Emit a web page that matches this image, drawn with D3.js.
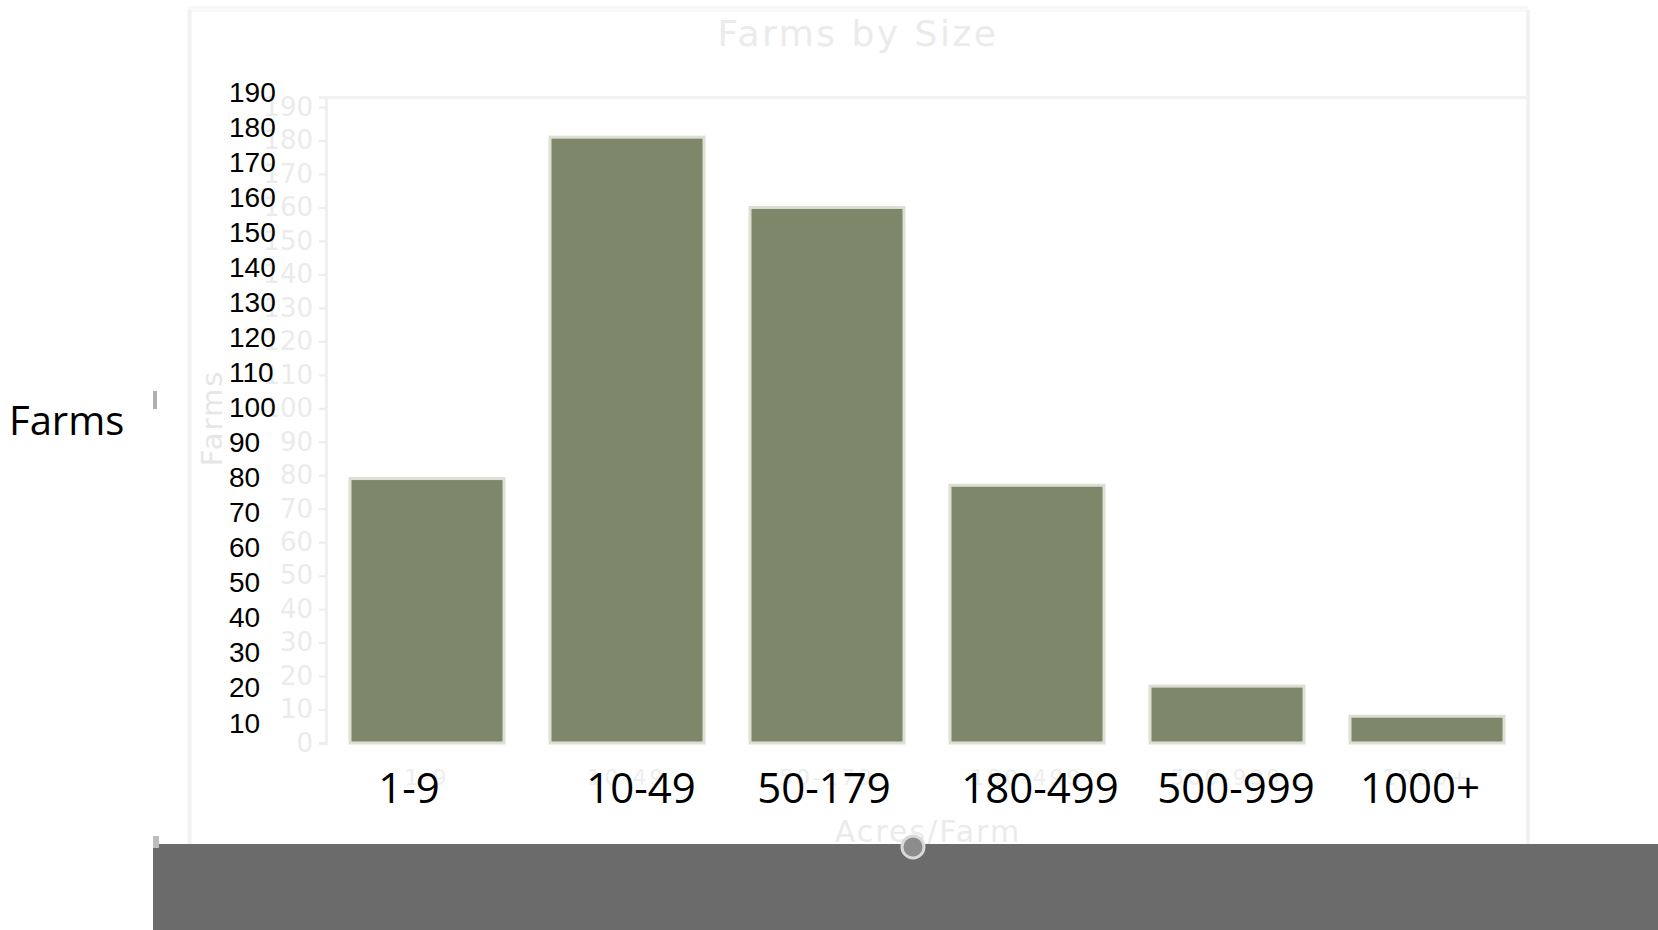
<!DOCTYPE html>
<html>
<head>
<meta charset="utf-8">
<script src="https://cdn.jsdelivr.net/npm/d3@7"></script>
<style>
  html, body { margin: 0; padding: 0; background: #fff; }
  svg { display: block; }
</style>
</head>
<body>
<svg id="chart" width="1658" height="930"></svg>
<script>
// ---- data ----
const categories = ["1-9", "10-49", "50-179", "180-499", "500-999", "1000+"];
const farms = [79, 181, 160, 77, 17, 8];
const ghostTicks = [0, 10, 20, 30, 40, 50, 60, 70, 80, 90, 100, 110, 120, 130, 140, 150, 160, 170, 180, 190];
const overlayTicks = [10, 20, 30, 40, 50, 60, 70, 80, 90, 100, 110, 120, 130, 140, 150, 160, 170, 180, 190];
const chartTitle = "Farms by Size";
const xTitle = "Acres/Farm";
const yTitle = "Farms";

// ---- layout ----
const W = 1658, H = 930;
const plot = { left: 327, right: 1527, top: 97, bottom: 743 };
const labelShift = [-18, 14, -3, 13, 9, -7];

const svg = d3.select("#chart");

const x = d3.scaleBand().domain(categories)
  .range([plot.left, plot.right]).paddingInner(0.23).paddingOuter(0.115);
const y = d3.scaleLinear().domain([0, 193]).range([plot.bottom, plot.top]);
// overlay (pasted) label scale
const yo = d3.scaleLinear().domain([10, 190]).range([723, 92]);

const ghost = "#ebebeb";

// panel frame
svg.append("rect").attr("x", 188).attr("y", 6).attr("width", 1340).attr("height", 6)
  .attr("fill", "#f8f8f8");
svg.append("line").attr("x1", 189.5).attr("x2", 189.5).attr("y1", 10).attr("y2", 850)
  .attr("stroke", "#f2f2f2").attr("stroke-width", 4);
svg.append("line").attr("x1", 1528).attr("x2", 1528).attr("y1", 10).attr("y2", 850)
  .attr("stroke", "#f2f2f2").attr("stroke-width", 4);

// plot area frame
svg.append("line").attr("x1", plot.left).attr("x2", 1530).attr("y1", 97.5).attr("y2", 97.5)
  .attr("stroke", "#f2f2f2").attr("stroke-width", 3);

// title
svg.append("text").attr("x", 858).attr("y", 46).attr("text-anchor", "middle")
  .attr("font-family", "DejaVu Sans").attr("font-size", 36).attr("letter-spacing", 2.5)
  .attr("fill", ghost).text(chartTitle);

// ghost y axis
const yAxis = d3.axisLeft(y).tickValues(ghostTicks).tickSize(7).tickPadding(6);
const gy = svg.append("g").attr("transform", `translate(${plot.left - 1},0)`).call(yAxis);
gy.select(".domain").attr("stroke", "#f0f0f0").attr("stroke-width", 3);
gy.selectAll(".tick line").attr("stroke", "#ececec").attr("stroke-width", 2);
gy.selectAll(".tick text").attr("font-family", "DejaVu Sans").attr("font-size", 26)
  .attr("fill", ghost);

// ghost y title
svg.append("text").attr("transform", "translate(214,418) rotate(-90)")
  .attr("text-anchor", "middle").attr("dominant-baseline", "middle")
  .attr("font-family", "DejaVu Sans").attr("font-size", 29).attr("letter-spacing", 2)
  .attr("fill", "#e6e6e6").text(yTitle);

// bars
svg.append("g").selectAll("rect").data(farms).join("rect")
  .attr("x", (d, i) => x(categories[i]))
  .attr("y", d => y(d))
  .attr("width", x.bandwidth())
  .attr("height", d => y(0) - y(d))
  .attr("fill", "#7d876a")
  .attr("stroke", "#dcdfd4").attr("stroke-width", 3);

// ghost x axis labels
const xAxis = d3.axisBottom(x).tickSize(0).tickPadding(26);
const gx = svg.append("g").attr("transform", `translate(0,${plot.bottom})`).call(xAxis);
gx.select(".domain").remove();
gx.selectAll(".tick text").attr("font-family", "DejaVu Sans").attr("font-size", 22)
  .attr("letter-spacing", 3).attr("fill", "#eeeeee");

// ghost x title
svg.append("text").attr("x", 928).attr("y", 842).attr("text-anchor", "middle")
  .attr("font-family", "DejaVu Sans").attr("font-size", 30).attr("letter-spacing", 2)
  .attr("fill", ghost).text(xTitle);

// overlay y labels (black)
svg.append("g").selectAll("text").data(overlayTicks).join("text")
  .attr("x", 229).attr("y", d => yo(d))
  .attr("dominant-baseline", "central")
  .attr("font-family", "Liberation Sans, Arial").attr("font-size", 28)
  .attr("fill", "#000").text(d => d);

// overlay x labels (black)
svg.append("g").selectAll("text").data(categories).join("text")
  .attr("x", (d, i) => x(d) + x.bandwidth() / 2 + labelShift[i])
  .attr("y", 803).attr("text-anchor", "middle")
  .attr("font-family", "Open Sans").attr("font-size", 42)
  .attr("fill", "#000").text(d => d);

// overlay y title
svg.append("text").attr("x", 9).attr("y", 435)
  .attr("font-family", "Open Sans").attr("font-size", 40).attr("fill", "#000")
  .text(yTitle);

// small artefact mark
svg.append("rect").attr("x", 153).attr("y", 391).attr("width", 4).attr("height", 18)
  .attr("fill", "#b0b0b0");

// gray band at the bottom
svg.append("rect").attr("x", 153).attr("y", 844).attr("width", W - 153).attr("height", H - 844)
  .attr("fill", "#6b6b6b");
svg.append("rect").attr("x", 153).attr("y", 836).attr("width", 6).attr("height", 12)
  .attr("fill", "#bdbdbd");

// slider knob
svg.append("circle").attr("cx", 913).attr("cy", 847).attr("r", 11)
  .attr("fill", "#8c8c8c").attr("stroke", "#d9d9d9").attr("stroke-width", 3);
</script>
</body>
</html>
